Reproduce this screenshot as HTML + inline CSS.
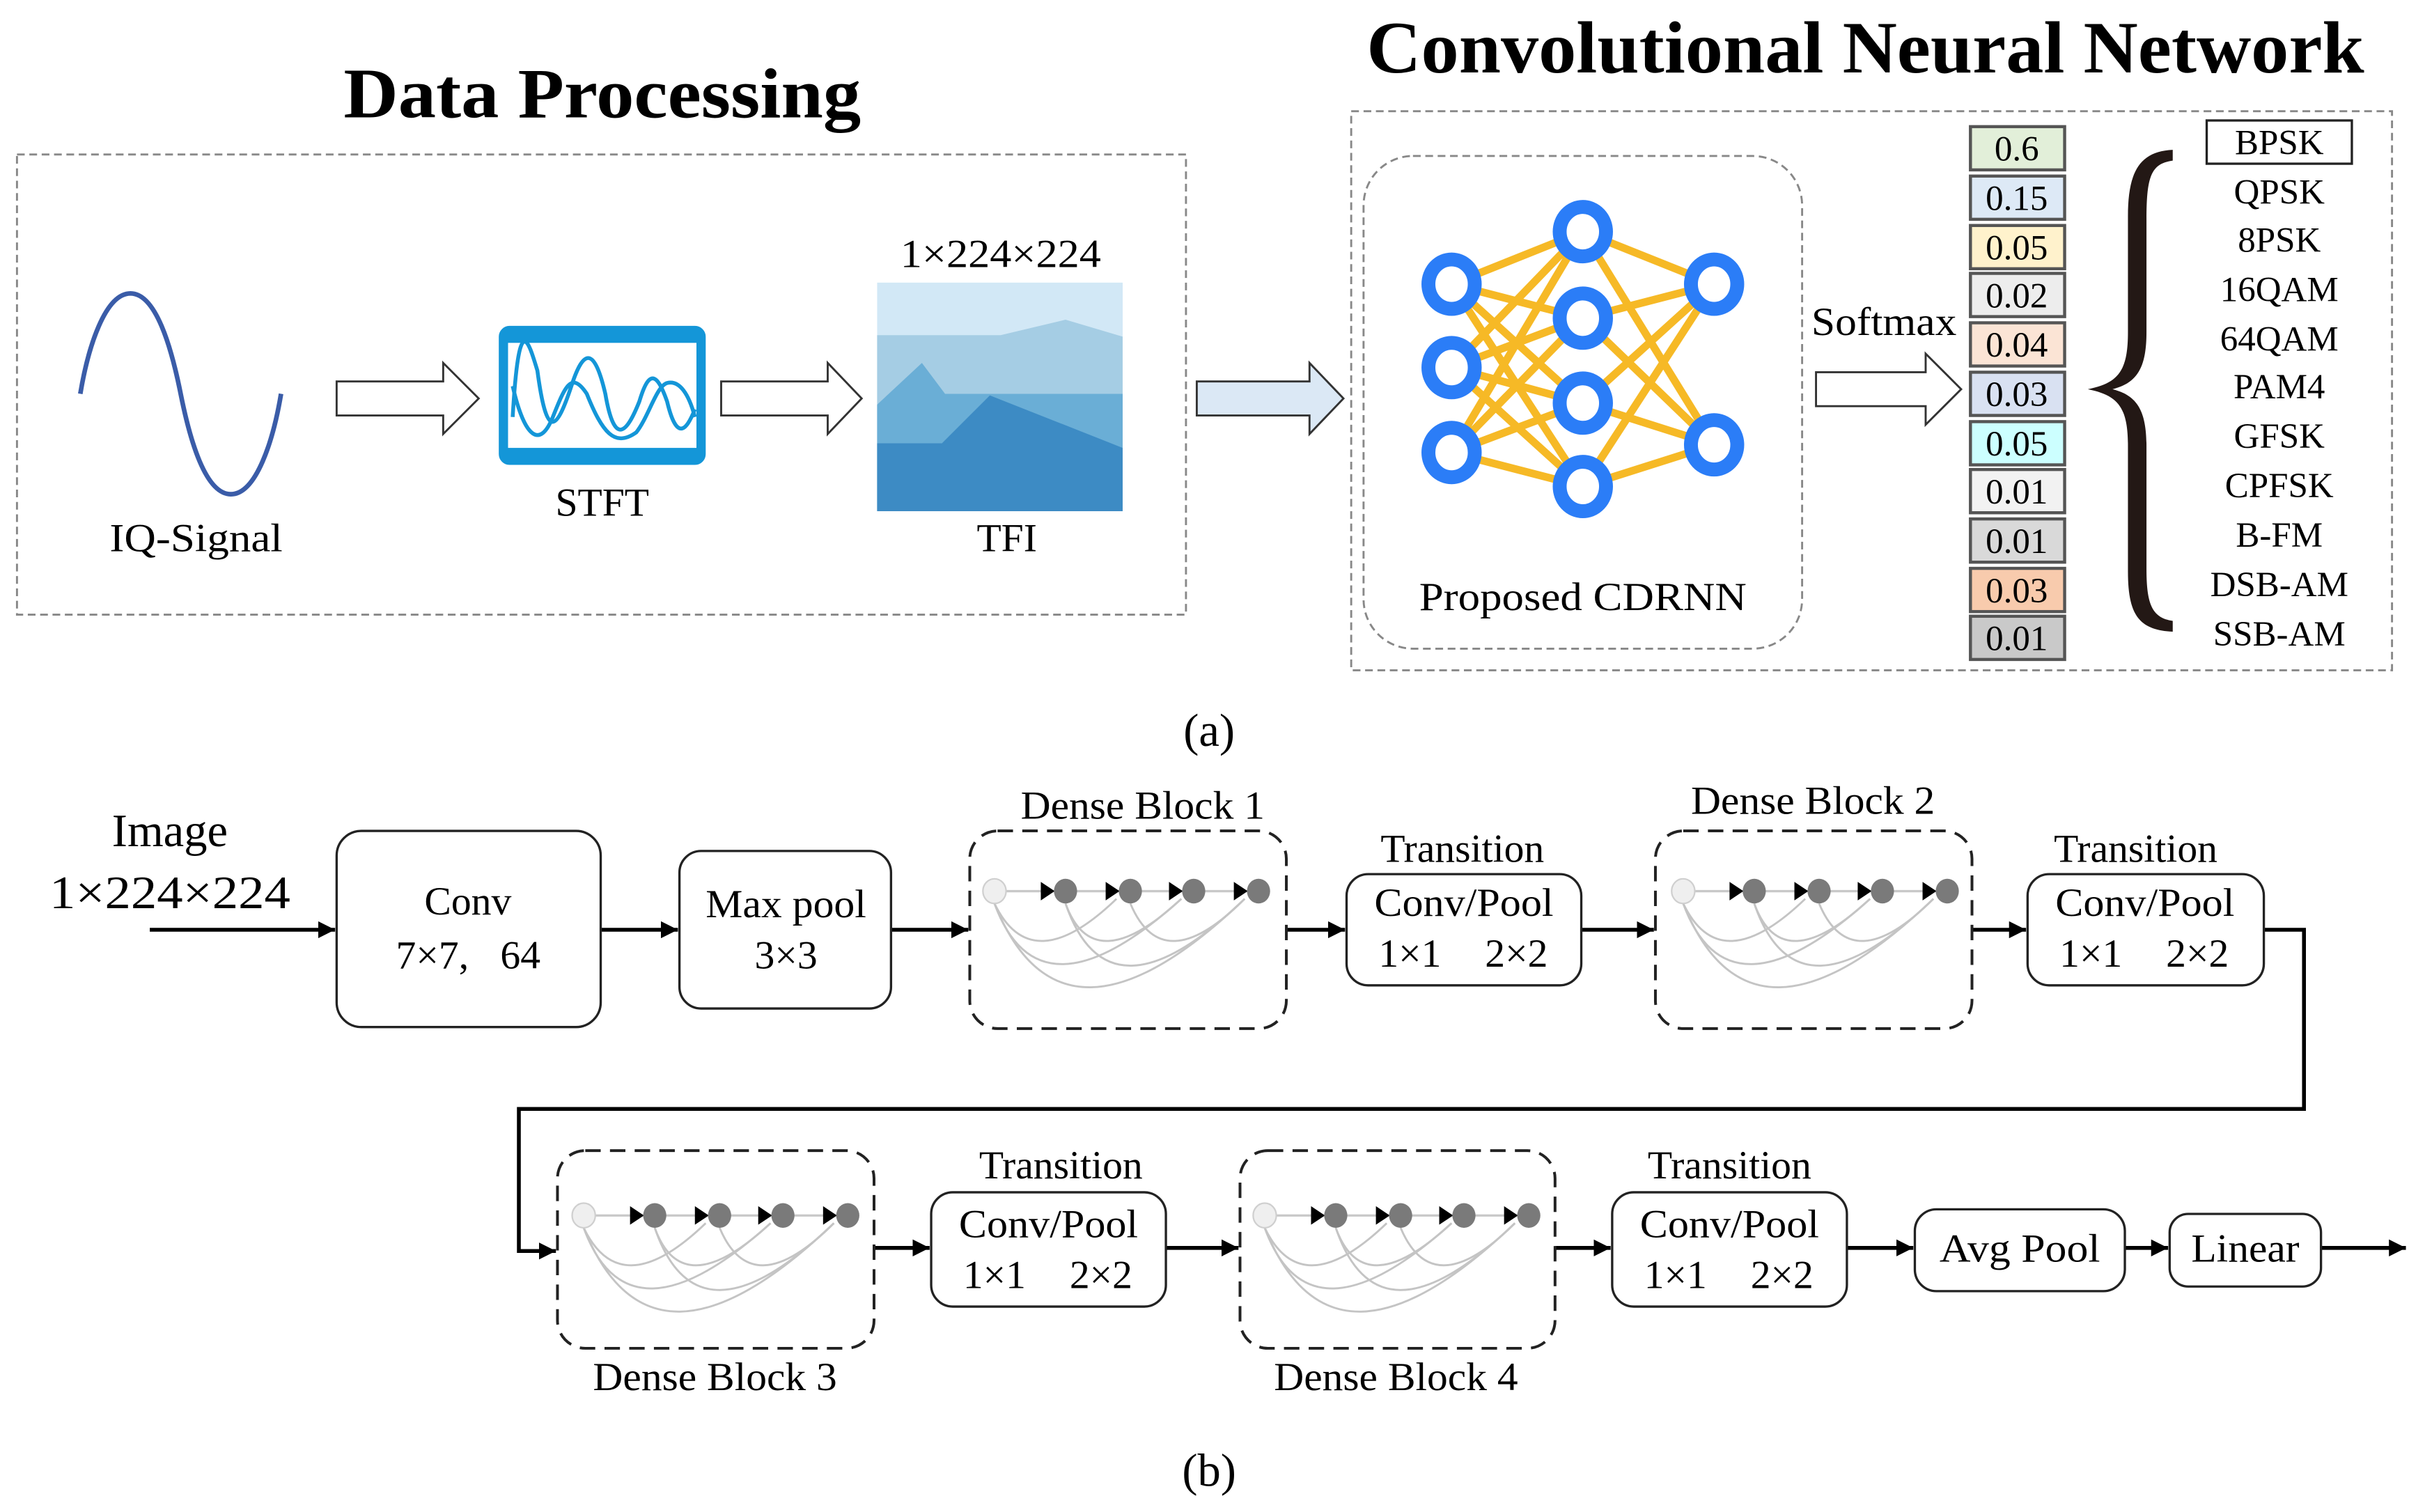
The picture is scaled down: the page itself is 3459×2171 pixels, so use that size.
<!DOCTYPE html>
<html><head><meta charset="utf-8"><style>html,body{margin:0;padding:0;background:#fff}svg{display:block}</style></head>
<body>
<svg width="3459" height="2171" viewBox="0 0 1560 979" preserveAspectRatio="none" xmlns="http://www.w3.org/2000/svg" font-family="'Liberation Serif', serif">
<defs>
<marker id="ah" viewBox="0 0 10 10" refX="10" refY="5" markerWidth="11" markerHeight="11" orient="auto" markerUnits="userSpaceOnUse"><path d="M0,0 L10,5 L0,10 z"/></marker>
<g id="db">
  <path d="M16,0 H187" stroke="#c8c8c8" stroke-width="1.5"/>
  <g fill="none" stroke="#c4c4c4" stroke-width="1.3">
    <path d="M16,8 Q40,58 95,5"/>
    <path d="M16,8 Q45,88 137,5"/>
    <path d="M16,8 Q60,118 178,5"/>
    <path d="M62,8 Q80,58 137,5"/>
    <path d="M62,8 Q90,90 178,5"/>
    <path d="M104,8 Q125,58 178,5"/>
  </g>
  <path d="M46,-6 L55,0 L46,6z M88,-6 L97,0 L88,6z M129,-6 L138,0 L129,6z M171,-6 L180,0 L171,6z"/>
  <ellipse cx="16" cy="0" rx="7.5" ry="8" fill="#efefef" stroke="#cfcfcf"/>
  <ellipse cx="62" cy="0" rx="7.5" ry="8" fill="#7a7a7a"/>
  <ellipse cx="104" cy="0" rx="7.5" ry="8" fill="#7a7a7a"/>
  <ellipse cx="145" cy="0" rx="7.5" ry="8" fill="#7a7a7a"/>
  <ellipse cx="187" cy="0" rx="7.5" ry="8" fill="#7a7a7a"/>
</g>
</defs>

<text x="390" y="76" font-size="46" font-weight="bold" text-anchor="middle" textLength="335" lengthAdjust="spacingAndGlyphs">Data Processing</text>
<text x="1208" y="47" font-size="48" font-weight="bold" text-anchor="middle" textLength="646" lengthAdjust="spacingAndGlyphs">Convolutional Neural Network</text>

<rect x="11" y="100" width="757" height="298" fill="none" stroke="#888" stroke-width="1.3" stroke-dasharray="5,3"/>
<path d="M52,255 C57,225 68,190 84.5,190 C101,190 111,225 117,255 C123,285 133,320 149.5,320 C166,320 177,285 182,255" fill="none" stroke="#3a5ca8" stroke-width="3"/>
<text x="127" y="357" font-size="26" text-anchor="middle" textLength="112" lengthAdjust="spacingAndGlyphs">IQ-Signal</text>
<path d="M218,247 H287 V235 L310,258 L287,281 V269 H218 Z" fill="#fff" stroke="#333" stroke-width="1.3"/>
<path d="M467,247 H536 V235 L558,258 L536,281 V269 H467 Z" fill="#fff" stroke="#333" stroke-width="1.3"/>
<rect x="326" y="214" width="128" height="84" rx="4" fill="#fff" stroke="#1496d8" stroke-width="6"/>
<rect x="326" y="214" width="128" height="8" fill="#1496d8"/>
<rect x="326" y="290" width="128" height="8" fill="#1496d8"/>
<g fill="none" stroke="#1496d8" stroke-width="2.5">
<path d="M332,270 C336,200 342,220 348,240 C354,285 360,280 370,250 C378,225 385,225 392,255 C398,290 406,280 414,260 C420,240 425,240 432,260 C438,285 444,280 450,265"/>
<path d="M332,250 C340,285 350,290 358,270 C366,250 370,240 380,255 C390,280 398,290 412,280 C420,270 425,250 432,248 C440,246 446,255 450,270"/>
</g>
<text x="390" y="334" font-size="26" text-anchor="middle">STFT</text>
<text x="648" y="173" font-size="26" text-anchor="middle" textLength="130" lengthAdjust="spacingAndGlyphs">1×224×224</text>
<rect x="568" y="183" width="159" height="148" fill="#d2e8f6"/>
<path d="M568,217 H648 L690,207 L727,218 V331 H568 Z" fill="#a5cde4"/>
<path d="M568,262 L597,235 L612,255 H727 V331 H568 Z" fill="#6aaed6"/>
<path d="M568,287 H610 L641,256 L727,290 V331 H568 Z" fill="#3d8bc4"/>
<text x="652" y="357" font-size="26" text-anchor="middle">TFI</text>
<path d="M775,247 H848 V235 L870,258 L848,281 V269 H775 Z" fill="#dbe8f5" stroke="#333" stroke-width="1.3"/>

<rect x="875" y="72" width="674" height="362" fill="none" stroke="#888" stroke-width="1.3" stroke-dasharray="5,3"/>
<rect x="883" y="101" width="284" height="319" rx="32" fill="none" stroke="#888" stroke-width="1.3" stroke-dasharray="5,3"/>
<g stroke="#f6b926" stroke-width="5">
<path d="M940,184 L1025,150 M940,184 L1025,206 M940,184 L1025,261 M940,184 L1025,315
M940,238 L1025,150 M940,238 L1025,206 M940,238 L1025,261 M940,238 L1025,315
M940,293 L1025,150 M940,293 L1025,206 M940,293 L1025,261 M940,293 L1025,315
M1025,150 L1110,184 M1025,206 L1110,184 M1025,261 L1110,184 M1025,315 L1110,184
M1025,150 L1110,288 M1025,206 L1110,288 M1025,261 L1110,288 M1025,315 L1110,288"/>
</g>
<g fill="#fff" stroke="#2b7df7" stroke-width="9">
<ellipse cx="940" cy="184" rx="15" ry="16"/><ellipse cx="940" cy="238" rx="15" ry="16"/><ellipse cx="940" cy="293" rx="15" ry="16"/>
<ellipse cx="1025" cy="150" rx="15" ry="16"/><ellipse cx="1025" cy="206" rx="15" ry="16"/><ellipse cx="1025" cy="261" rx="15" ry="16"/><ellipse cx="1025" cy="315" rx="15" ry="16"/>
<ellipse cx="1110" cy="184" rx="15" ry="16"/><ellipse cx="1110" cy="288" rx="15" ry="16"/>
</g>
<text x="1025" y="395" font-size="26" text-anchor="middle" textLength="212" lengthAdjust="spacingAndGlyphs">Proposed CDRNN</text>
<text x="1220" y="217" font-size="26" text-anchor="middle" textLength="94" lengthAdjust="spacingAndGlyphs">Softmax</text>
<path d="M1176,241 H1247 V229 L1270,252 L1247,275 V263 H1176 Z" fill="#fff" stroke="#333" stroke-width="1.3"/>

<g stroke="#555" stroke-width="2">
<rect x="1276" y="82" width="61" height="28" fill="#e2efd9"/>
<rect x="1276" y="114" width="61" height="28" fill="#dde9f6"/>
<rect x="1276" y="146" width="61" height="28" fill="#fff2cc"/>
<rect x="1276" y="177" width="61" height="28" fill="#ededed"/>
<rect x="1276" y="209" width="61" height="28" fill="#fbe4d5"/>
<rect x="1276" y="241" width="61" height="28" fill="#d9e1f2"/>
<rect x="1276" y="273" width="61" height="28" fill="#ccffff"/>
<rect x="1276" y="304" width="61" height="28" fill="#f2f2f2"/>
<rect x="1276" y="336" width="61" height="28" fill="#d9d9d9"/>
<rect x="1276" y="368" width="61" height="28" fill="#f8cbad"/>
<rect x="1276" y="399" width="61" height="28" fill="#c9c9c9"/>
</g>
<g font-size="23" text-anchor="middle">
<text x="1306" y="104">0.6</text><text x="1306" y="136">0.15</text><text x="1306" y="168">0.05</text>
<text x="1306" y="199">0.02</text><text x="1306" y="231">0.04</text><text x="1306" y="263">0.03</text>
<text x="1306" y="295">0.05</text><text x="1306" y="326">0.01</text><text x="1306" y="358">0.01</text>
<text x="1306" y="390">0.03</text><text x="1306" y="421">0.01</text>
</g>
<path d="M1407,97 C1385,98 1378,112 1378,140 V215 C1378,240 1372,248 1352,252 C1372,256 1378,264 1378,289 V370 C1378,398 1385,408 1407,409 V402 C1393,400 1390,390 1390,368 V289 C1390,266 1384,256 1368,252 C1384,248 1390,238 1390,215 V142 C1390,114 1393,106 1407,104 Z" fill="#231815"/>
<rect x="1429" y="78" width="94" height="28" fill="#fff" stroke="#222" stroke-width="1.5"/>
<g font-size="23" text-anchor="middle">
<text x="1476" y="100">BPSK</text><text x="1476" y="132">QPSK</text><text x="1476" y="163">8PSK</text>
<text x="1476" y="195">16QAM</text><text x="1476" y="227">64QAM</text><text x="1476" y="258">PAM4</text>
<text x="1476" y="290">GFSK</text><text x="1476" y="322">CPFSK</text><text x="1476" y="354">B-FM</text>
<text x="1476" y="386">DSB-AM</text><text x="1476" y="418">SSB-AM</text>
</g>
<text x="783" y="483" font-size="30" text-anchor="middle">(a)</text>

<text x="110" y="548" font-size="30" text-anchor="middle">Image</text>
<text x="110" y="588" font-size="30" text-anchor="middle" textLength="156" lengthAdjust="spacingAndGlyphs">1×224×224</text>
<g stroke="#000" stroke-width="2.5" fill="none" marker-end="url(#ah)">
<path d="M97,602 H217"/>
<path d="M389,602 H439"/>
<path d="M577,602 H627"/>
<path d="M833,602 H871"/>
<path d="M1024,602 H1071"/>
<path d="M1277,602 H1312"/>
<path d="M1466,602 H1492 V718 H336 V810 H360"/>
<path d="M566,808 H602"/>
<path d="M755,808 H802"/>
<path d="M1007,808 H1043"/>
<path d="M1196,808 H1239"/>
<path d="M1376,808 H1404"/>
<path d="M1503,808 H1558"/>
</g>
<g fill="#fff" stroke="#222" stroke-width="1.5">
<rect x="218" y="538" width="171" height="127" rx="16"/>
<rect x="440" y="551" width="137" height="102" rx="14"/>
<rect x="872" y="566" width="152" height="72" rx="14"/>
<rect x="1313" y="566" width="153" height="72" rx="14"/>
<rect x="603" y="772" width="152" height="74" rx="14"/>
<rect x="1044" y="772" width="152" height="74" rx="14"/>
<rect x="1240" y="783" width="136" height="53" rx="14"/>
<rect x="1405" y="786" width="98" height="47" rx="12"/>
</g>
<g fill="none" stroke="#222" stroke-width="1.8" stroke-dasharray="10,6">
<rect x="628" y="538" width="205" height="128" rx="18"/>
<rect x="1072" y="538" width="205" height="128" rx="18"/>
<rect x="361" y="745" width="205" height="128" rx="18"/>
<rect x="803" y="745" width="204" height="128" rx="18"/>
</g>
<use href="#db" x="628" y="577"/>
<use href="#db" x="1074" y="577"/>
<use href="#db" x="362" y="787"/>
<use href="#db" x="803" y="787"/>
<g font-size="26" text-anchor="middle">
<text x="303" y="592">Conv</text>
<text x="280" y="627">7×7,</text><text x="337" y="627">64</text>
<text x="509" y="594" textLength="104" lengthAdjust="spacingAndGlyphs">Max pool</text><text x="509" y="627">3×3</text>
<text x="740" y="530" textLength="158" lengthAdjust="spacingAndGlyphs">Dense Block 1</text>
<text x="1174" y="527" textLength="158" lengthAdjust="spacingAndGlyphs">Dense Block 2</text>
<text x="463" y="900" textLength="158" lengthAdjust="spacingAndGlyphs">Dense Block 3</text>
<text x="904" y="900" textLength="158" lengthAdjust="spacingAndGlyphs">Dense Block 4</text>
<text x="947" y="558">Transition</text><text x="948" y="593" textLength="116" lengthAdjust="spacingAndGlyphs">Conv/Pool</text><text x="913" y="626">1×1</text><text x="982" y="626">2×2</text>
<text x="1383" y="558">Transition</text><text x="1389" y="593" textLength="116" lengthAdjust="spacingAndGlyphs">Conv/Pool</text><text x="1354" y="626">1×1</text><text x="1423" y="626">2×2</text>
<text x="687" y="763">Transition</text><text x="679" y="801" textLength="116" lengthAdjust="spacingAndGlyphs">Conv/Pool</text><text x="644" y="834">1×1</text><text x="713" y="834">2×2</text>
<text x="1120" y="763">Transition</text><text x="1120" y="801" textLength="116" lengthAdjust="spacingAndGlyphs">Conv/Pool</text><text x="1085" y="834">1×1</text><text x="1154" y="834">2×2</text>
<text x="1308" y="817" textLength="104" lengthAdjust="spacingAndGlyphs">Avg Pool</text>
<text x="1454" y="817" textLength="70" lengthAdjust="spacingAndGlyphs">Linear</text>
</g>
<text x="783" y="962" font-size="30" text-anchor="middle">(b)</text>
</svg>
</body></html>
